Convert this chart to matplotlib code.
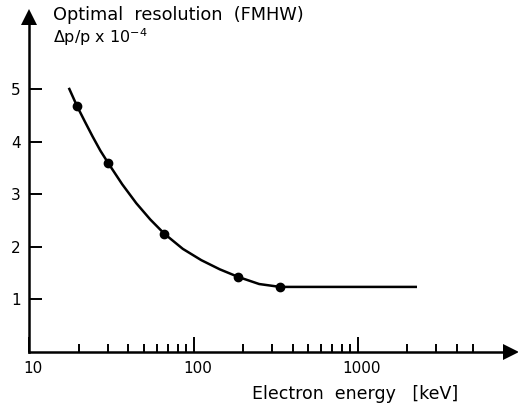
import matplotlib.pyplot as plt
from matplotlib.ticker import FixedLocator, NullFormatter
from matplotlib.transforms import ScaledTranslation

# measured points (dots)
energy = [19.5, 30.3, 66.3, 187, 336]
resolution = [4.685, 3.59, 2.25, 1.425, 1.235]

# points
curve_energy = [17.4, 19.5, 21.8, 24.3, 27.1, 30.3, 36.8, 44.8, 54.5, 66.3,
                86.0, 111.4, 144.4, 187, 250.7, 336, 2290]
curve_res = [5.03, 4.685, 4.385, 4.10, 3.83, 3.59, 3.19, 2.83, 2.52, 2.25,
             1.96, 1.745, 1.57, 1.425, 1.29, 1.235, 1.235]

major_ticks = [10, 100, 1000]
major_labels = ["10", "100", "1000"]
minor_ticks = [20, 30, 40, 50, 60, 70, 80, 90,
               200, 300, 400, 500, 600, 700, 800, 900,
               2000, 3000, 4000, 5000]
y_ticks = [1, 2, 3, 4, 5]

plt.rcParams['font.family'] = 'DejaVu Sans'

W, H = 518, 405
fig = plt.figure(figsize=(W / 100, H / 100), dpi=100)
ax = fig.add_axes([29.3 / W, (H - 351.7) / H, (511 - 29.3) / W, (351.7 - 17) / H])

ax.plot(curve_energy, curve_res, color="black", lw=1.8, solid_capstyle="butt")
ax.plot(energy, resolution, "o", color="black", ms=6)

ax.set_xscale("log")
ax.set_xlim(10, 8550)
ax.set_ylim(0, 6.38)

for s in ["top", "right"]:
    ax.spines[s].set_visible(False)
for s in ["left", "bottom"]:
    ax.spines[s].set_linewidth(1.8)

# arrow heads
ax.plot(1, 0, ">", color="black", ms=11, transform=ax.transAxes, clip_on=False,
        markeredgewidth=0)
ax.plot(0, 1, "^", color="black", ms=11, transform=ax.transAxes, clip_on=False,
        markeredgewidth=0)

ax.xaxis.set_major_locator(FixedLocator(major_ticks))
ax.set_xticklabels(major_labels)
ax.xaxis.set_minor_locator(FixedLocator(minor_ticks))
ax.xaxis.set_minor_formatter(NullFormatter())
ax.tick_params(axis="x", which="major", direction="in", length=11, width=1.4,
               pad=7, labelsize=11)
ax.tick_params(axis="x", which="minor", direction="in", length=6, width=1.4)
# labels in the original sit a little right of their ticks
shift = ScaledTranslation(4 / 100, 0, fig.dpi_scale_trans)
for lab in ax.get_xticklabels():
    lab.set_transform(lab.get_transform() + shift)

ax.set_yticks(y_ticks)
ax.set_yticklabels([str(v) for v in y_ticks])
ax.tick_params(axis="y", which="both", direction="in", length=9, width=1.4,
               pad=6, labelsize=11)
ax.yaxis.set_minor_locator(FixedLocator([]))

fig.text(53 / W, 1 - 15 / H, "Optimal  resolution  (FMHW)", fontsize=12.8,
         va="center", ha="left")
fig.text(53 / W, 1 - 37 / H, r"$\Delta$p/p x 10$^{-4}$", fontsize=11.5,
         va="center", ha="left")
fig.text(252 / W, 1 - 394 / H, "Electron  energy   [keV]", fontsize=12.5,
         va="center", ha="left")

fig.savefig("out.png", dpi=100)
